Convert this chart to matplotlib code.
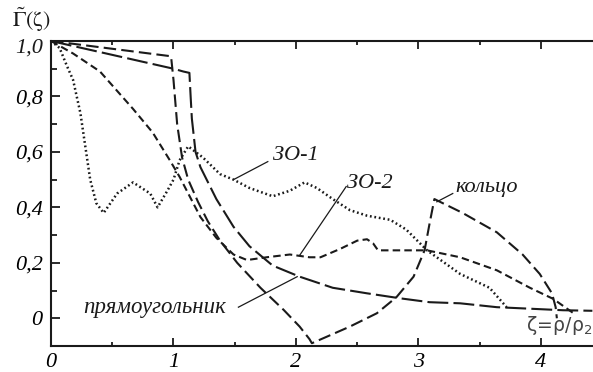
import matplotlib
matplotlib.use("Agg")
import matplotlib.pyplot as plt
import matplotlib.font_manager as fm
from matplotlib.ticker import MultipleLocator, FixedLocator

plt.rcParams['mathtext.fontset'] = 'stix'

# ---- data ----
zo1_x = [0, 0.07, 0.13, 0.18, 0.24, 0.28, 0.32, 0.37, 0.43, 0.54, 0.67, 0.81, 0.87, 0.95, 1.0,
         1.05, 1.12, 1.24, 1.38, 1.49, 1.62, 1.81, 1.95, 2.07, 2.17, 2.30, 2.44, 2.58, 2.77,
         2.90, 3.07, 3.34, 3.58, 3.72]
zo1_y = [1.0, 0.975, 0.91, 0.86, 0.74, 0.62, 0.50, 0.415, 0.38, 0.45, 0.49, 0.45, 0.40, 0.46, 0.50,
         0.57, 0.62, 0.58, 0.52, 0.50, 0.47, 0.44, 0.46, 0.49, 0.47, 0.43, 0.39, 0.37, 0.355,
         0.32, 0.245, 0.16, 0.11, 0.04]

zo2_x = [0, 0.18, 0.40, 0.67, 0.83, 0.97, 1.05, 1.22, 1.35, 1.49, 1.60, 1.76, 1.95, 2.11, 2.20,
         2.36, 2.50, 2.58, 2.63, 2.67, 2.85, 3.07, 3.34, 3.64, 3.91, 4.10, 4.26]
zo2_y = [1.0, 0.955, 0.89, 0.755, 0.67, 0.57, 0.51, 0.365, 0.29, 0.23, 0.21, 0.22, 0.23, 0.22, 0.22,
         0.25, 0.28, 0.285, 0.27, 0.245, 0.245, 0.245, 0.22, 0.173, 0.11, 0.07, 0.02]

ring_x = [0, 0.98, 1.00, 1.03, 1.07, 1.12, 1.20, 1.28, 1.38, 1.52, 1.71, 1.90, 2.03, 2.11, 2.13,
          2.44, 2.66, 2.82, 2.96, 3.05, 3.09, 3.13, 3.36, 3.64, 3.85, 3.99, 4.09, 4.12, 4.13]
ring_y = [1.0, 0.945, 0.86, 0.70, 0.58, 0.50, 0.42, 0.35, 0.28, 0.20, 0.11, 0.03, -0.03, -0.075, -0.09,
          -0.03, 0.018, 0.076, 0.15, 0.245, 0.34, 0.43, 0.38, 0.31, 0.23, 0.16, 0.09, 0.04, 0.0]

rect_x = [0, 1.0, 1.08, 1.13, 1.14, 1.15, 1.18, 1.22, 1.35, 1.49, 1.62, 1.81, 2.03, 2.30, 2.58,
          2.85, 3.09, 3.34, 3.64, 4.18, 4.42]
rect_y = [1.0, 0.90, 0.89, 0.885, 0.80, 0.72, 0.60, 0.545, 0.43, 0.33, 0.26, 0.19, 0.15, 0.11, 0.09,
          0.072, 0.058, 0.054, 0.04, 0.029, 0.027]

y_ticks = [0, 0.2, 0.4, 0.6, 0.8, 1.0]
y_ticklabels = ['0', '0,2', '0,4', '0,6', '0,8', '1,0']
x_ticks = [0, 1, 2, 3, 4]
x_ticklabels = ['0', '1', '2', '3', '4']

labels = ['ЗО-1', 'ЗО-2', 'кольцо', 'прямоугольник']


def _wt(w):
    try:
        return int(w)
    except Exception:
        return {'normal': 400, 'regular': 400, 'book': 400, 'medium': 500}.get(str(w).lower(), 700)


def find_italic(names):
    fl = fm.fontManager.ttflist
    for n in names:
        cands = [f for f in fl if f.name.lower() == n.lower() and f.style == 'italic'
                 and _wt(f.weight) in (400, 500)]
        if cands:
            cands.sort(key=lambda f: abs(_wt(f.weight) - 400))
            return cands[0].fname
    for f in fl:
        if 'liberationserif-italic' in f.fname.lower() or 'tinos-italic' in f.fname.lower():
            return f.fname
    return None


ital_path = find_italic(['Liberation Serif', 'Tinos', 'Times New Roman', 'Times', 'STIX Two Text',
                         'PT Serif', 'Noto Serif', 'EB Garamond', 'Source Serif Pro', 'DejaVu Serif'])


def ifont(size):
    if ital_path:
        return fm.FontProperties(fname=ital_path, size=size)
    return fm.FontProperties(family='serif', style='italic', size=size)


# ---- figure ----
W, H = 593, 372
fig = plt.figure(figsize=(W / 100, H / 100), dpi=100)
ax = fig.add_axes([51 / W, (H - 346) / H, (W - 51) / W, (346 - 41) / H])
ax.set_xlim(0, 4.425)
ax.set_ylim(-0.1, 1.0)

col = '#1a1a1a'
lw = 1.5
ax.plot(zo1_x, zo1_y, color=col, lw=1.8, linestyle=(0, (0.7, 1.1)))
ax.plot(zo2_x, zo2_y, color=col, lw=lw, linestyle=(0, (3.6, 2.0)))
ax.plot(ring_x, ring_y, color=col, lw=lw, linestyle=(0, (6.0, 2.5)))
ax.plot(rect_x, rect_y, color=col, lw=lw, linestyle=(0, (10.0, 2.5)))

ax.spines['right'].set_visible(False)
for s in ['left', 'bottom', 'top']:
    ax.spines[s].set_linewidth(1.5)
    ax.spines[s].set_color(col)

ax.xaxis.set_major_locator(FixedLocator(x_ticks))
ax.xaxis.set_minor_locator(MultipleLocator(0.5))
ax.set_xticklabels(x_ticklabels)
ax.yaxis.set_major_locator(FixedLocator(y_ticks))
ax.yaxis.set_minor_locator(MultipleLocator(0.1))
# the top label ("1,0") sits a little below its tick in the reference: drawn separately
ax.set_yticklabels(y_ticklabels[:-1] + [''])

for lab in ax.get_xticklabels() + ax.get_yticklabels():
    lab.set_fontproperties(ifont(16))

ax.text(-8 / 542, 0.975, y_ticklabels[-1], transform=ax.get_yaxis_transform(),
        ha='right', va='center', fontproperties=ifont(16), color=col)

ax.tick_params(axis='x', which='both', direction='in', top=True, bottom=True, color=col)
ax.tick_params(axis='x', which='major', length=6, width=1.3, pad=5)
ax.tick_params(axis='x', which='minor', length=3, width=1.3)
ax.tick_params(axis='y', which='both', direction='in', left=True, right=False, color=col)
ax.tick_params(axis='y', which='major', length=6.5, width=1.3, pad=6)
ax.tick_params(axis='y', which='minor', length=4.3, width=1.3)

# annotations
ax.text(1.81, 0.57, labels[0], fontproperties=ifont(16), color=col)
ax.text(2.42, 0.47, labels[1], fontproperties=ifont(16), color=col)
ax.text(3.30, 0.455, labels[2], fontproperties=ifont(16), color=col)
ax.text(0.26, 0.018, labels[3], fontproperties=ifont(16.5), color=col)

lk = dict(color=col, lw=0.9)
ax.plot([1.49, 1.77], [0.50, 0.565], **lk)
ax.plot([2.03, 2.41], [0.227, 0.475], **lk)
ax.plot([3.15, 3.28], [0.42, 0.45], **lk)
ax.plot([1.53, 2.01], [0.04, 0.15], **lk)

ax.text(3.88, -0.045, r'$\mathregular{\zeta\!=\!\rho/\rho_2}$', fontsize=13.5, color='#444444',
        family='DejaVu Sans')

fig.text(12 / W, 1 - 27 / H, r'$\tilde{\Gamma}(\mathrm{\zeta})$', fontsize=16, color=col)

fig.savefig('out.png', dpi=100)
